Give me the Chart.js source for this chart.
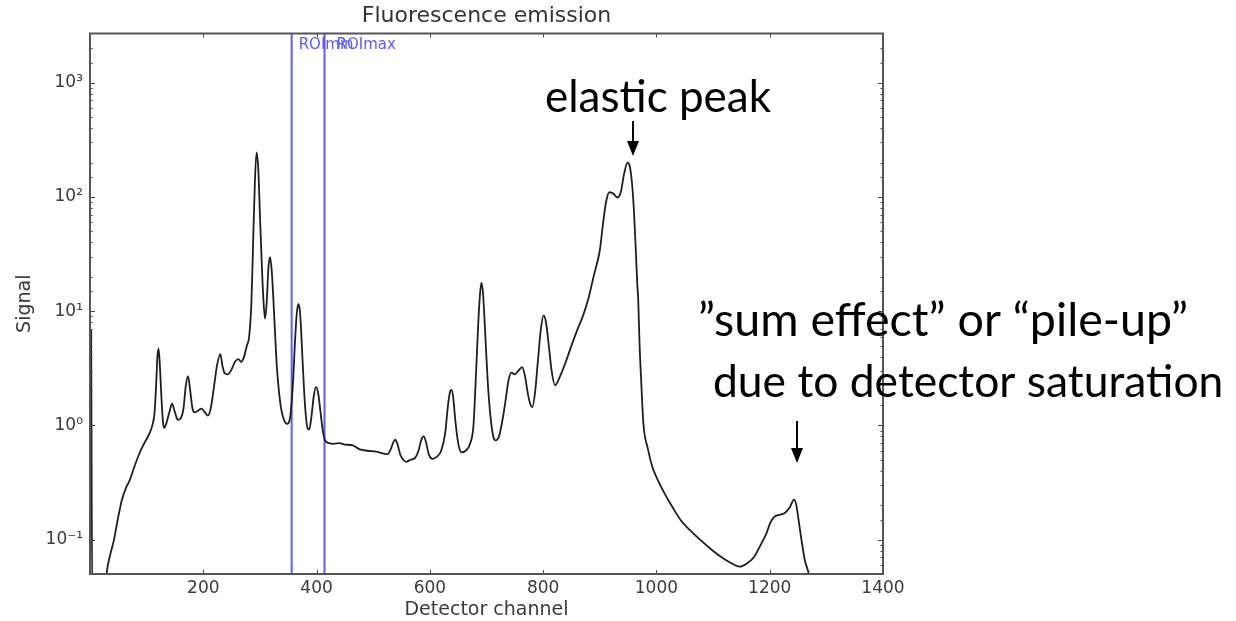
<!DOCTYPE html>
<html>
<head>
<meta charset="utf-8">
<script src="https://cdn.jsdelivr.net/npm/chart.js@4.4.0/dist/chart.umd.min.js"></script>
<style>
  html, body { margin: 0; padding: 0; background: #fff; }
  #wrap { width: 1236px; height: 621px; }
</style>
</head>
<body>
<div id="wrap"><canvas id="spectrum" width="1236" height="621"></canvas></div>
<script>
// spectrum (channel -> signal)
const channels = [
  2, 4, 28, 31, 36, 42, 49, 56, 63, 70, 78, 87, 96, 105, 110, 114, 117, 119, 121, 123,
  126, 129, 131, 135, 140, 145, 150, 155, 160, 165, 169, 173, 177, 181, 185, 191, 197, 203, 208, 213,
  219, 224, 230, 234, 238, 243, 250, 256, 262, 267, 272, 277, 281, 285, 288, 291, 294, 297, 300, 303,
  306, 309, 312, 315, 318, 321, 324, 327, 330, 334, 338, 343, 348, 353, 358, 362, 365, 368, 371, 374,
  377, 380, 384, 387, 391, 395, 399, 403, 407, 411, 415, 422, 430, 440, 450, 464, 475, 490, 505, 517,
  525, 531, 536, 539, 543, 548, 553, 558, 566, 574, 580, 585, 589, 593, 598, 605, 612, 620, 627, 632,
  636, 638, 641, 645, 650, 656, 663, 671, 677, 681, 685, 688, 691, 694, 698, 702, 707, 712, 716, 722,
  728, 734, 739, 744, 750, 756, 763, 768, 773, 778, 781, 786, 791, 796, 801, 805, 810, 815, 821, 830,
  840, 850, 860, 870, 880, 890, 900, 906, 911, 917, 924, 931, 937, 943, 949, 953, 957, 960, 963, 966,
  968, 970, 973, 977, 985, 993, 1004, 1015, 1029, 1043, 1060, 1079, 1097, 1115, 1130, 1147, 1160, 1172, 1184, 1194,
  1201, 1208, 1217, 1226, 1235, 1243, 1247, 1251, 1256, 1262, 1269, 1272
];
const signal = [
  7.0, 0.03, 0.045, 0.058, 0.075, 0.098, 0.15, 0.22, 0.28, 0.33, 0.43, 0.565, 0.7, 0.85, 1.0, 1.3, 2.4, 4.0, 4.7, 3.6,
  1.8, 1.05, 0.95, 1.05, 1.3, 1.55, 1.3, 1.12, 1.15, 1.4, 2.2, 2.7, 2.0, 1.4, 1.3, 1.35, 1.4, 1.3, 1.22, 1.4,
  2.2, 3.3, 4.2, 3.3, 2.85, 2.8, 3.1, 3.6, 3.8, 3.6, 4.0, 5.0, 6.0, 12, 40, 130, 246, 180, 70, 28,
  13, 8.6, 12, 24, 29.7, 22, 12, 6, 3.2, 1.9, 1.35, 1.1, 1.03, 1.15, 2.2, 5.5, 9.5, 11.6, 9.5, 5,
  2.5, 1.4, 0.95, 0.92, 1.2, 1.8, 2.16, 1.9, 1.3, 0.9, 0.74, 0.70, 0.69, 0.70, 0.68, 0.67, 0.62, 0.6, 0.59, 0.57,
  0.56, 0.62, 0.72, 0.75, 0.68, 0.55, 0.5, 0.48, 0.5, 0.52, 0.6, 0.75, 0.80, 0.72, 0.56, 0.51, 0.53, 0.6, 0.85, 1.5,
  2.0, 2.05, 1.8, 1.1, 0.7, 0.58, 0.6, 0.69, 1.0, 2.5, 7, 13, 17.8, 14, 6, 2.5, 1.2, 0.8, 0.74, 0.8,
  1.1, 1.7, 2.5, 2.9, 2.8, 3.0, 3.24, 2.7, 1.9, 1.5, 1.45, 2.0, 3.8, 7, 9.2, 8, 5, 3, 2.24, 2.7,
  3.6, 5, 6.8, 9, 13, 21, 34, 60, 90, 110, 107, 99, 110, 160, 200, 185, 130, 80, 40, 18,
  12, 5.5, 2.5, 1.04, 0.62, 0.43, 0.32, 0.25, 0.19, 0.148, 0.12, 0.098, 0.082, 0.07, 0.063, 0.058, 0.062, 0.07, 0.09, 0.113,
  0.14, 0.158, 0.165, 0.17, 0.19, 0.224, 0.2, 0.148, 0.1, 0.066, 0.05, 0.04
];

const xTickValues = [200, 400, 600, 800, 1000, 1200, 1400];
const yDecades = [0.1, 1, 10, 100, 1000];
const yDecadeLabels = ['10\u207B\u00B9', '10\u2070', '10\u00B9', '10\u00B2', '10\u00B3'];
const xRange = [0, 1400];
const yRange = [0.05, 2700];
const roiMin = 356;
const roiMax = 414;

const points = channels.map((c, i) => ({ x: c, y: signal[i] }));

function decadeIndex(v) {
  return yDecades.findIndex(d => Math.abs(Math.log10(v) - Math.log10(d)) < 1e-6);
}

// matplotlib-like frame with inward ticks, ROI labels
const framePlugin = {
  id: 'frame',
  afterDatasetsDraw(chart) {
    const { ctx, chartArea: a, scales } = chart;
    const xs = scales.x, ys = scales.y;
    ctx.save();
    ctx.strokeStyle = '#444';
    ctx.lineWidth = 1;
    xTickValues.forEach(v => {
      const px = Math.round(xs.getPixelForValue(v)) + 0.5;
      ctx.beginPath();
      ctx.moveTo(px, a.bottom); ctx.lineTo(px, a.bottom - 4);
      ctx.moveTo(px, a.top); ctx.lineTo(px, a.top + 4);
      ctx.stroke();
    });
    ys.ticks.forEach(t => {
      if (t.value <= yRange[0] || t.value >= yRange[1]) return;
      const py = Math.round(ys.getPixelForValue(t.value)) + 0.5;
      const len = decadeIndex(t.value) >= 0 ? 5 : 2.5;
      ctx.beginPath();
      ctx.moveTo(a.left, py); ctx.lineTo(a.left + len, py);
      ctx.moveTo(a.right, py); ctx.lineTo(a.right - len, py);
      ctx.stroke();
    });
    ctx.strokeStyle = '#555';
    ctx.lineWidth = 2;
    ctx.strokeRect(a.left, a.top, a.right - a.left, a.bottom - a.top);

    ctx.fillStyle = '#5a5aff';
    ctx.font = '15px "DejaVu Sans"';
    ctx.textBaseline = 'alphabetic';
    ctx.fillText('ROImin', xs.getPixelForValue(roiMin) + 7, a.top + 15);
    ctx.fillText('ROImax', xs.getPixelForValue(roiMax) + 12, a.top + 15);
    ctx.restore();
  }
};

// call-out texts and arrows
function fitText(ctx, text, family, left, right, baseline) {
  ctx.font = '40px ' + family;
  const w = ctx.measureText(text).width;
  const size = 40 * (right - left) / w;
  ctx.font = size.toFixed(1) + 'px ' + family;
  ctx.fillText(text, left, baseline);
}
function arrow(ctx, x, y0, y1) {
  ctx.beginPath();
  ctx.moveTo(x, y0); ctx.lineTo(x, y1 - 12);
  ctx.stroke();
  ctx.beginPath();
  ctx.moveTo(x, y1); ctx.lineTo(x - 6, y1 - 15); ctx.lineTo(x + 6, y1 - 15);
  ctx.closePath();
  ctx.fill();
}
const notePlugin = {
  id: 'notes',
  afterDraw(chart) {
    const ctx = chart.ctx;
    ctx.save();
    ctx.fillStyle = '#000';
    ctx.strokeStyle = '#000';
    ctx.lineWidth = 2;
    ctx.textBaseline = 'alphabetic';
    fitText(ctx, 'elastic peak', 'Lato', 545, 771, 112);
    fitText(ctx, '\u201Dsum effect\u201D or \u201Cpile-up\u201D', 'Lato', 698, 1188, 336);
    fitText(ctx, 'due to detector saturation', 'Lato', 713, 1223, 397);
    arrow(ctx, 633, 121, 156);
    arrow(ctx, 797, 421, 463);
    ctx.restore();
  }
};

const axisFont = { family: 'DejaVu Sans', size: 17 };
const labelFont = { family: 'DejaVu Sans', size: 19 };

new Chart(document.getElementById('spectrum'), {
  type: 'line',
  data: {
    datasets: [
      {
        data: points,
        borderColor: '#1e1e1e',
        borderWidth: 1.8,
        pointRadius: 0,
        cubicInterpolationMode: 'monotone'
      },
      {
        data: [{ x: roiMin, y: yRange[0] }, { x: roiMin, y: yRange[1] }],
        borderColor: '#5a5aff',
        borderWidth: 2,
        pointRadius: 0
      },
      {
        data: [{ x: roiMax, y: yRange[0] }, { x: roiMax, y: yRange[1] }],
        borderColor: '#5a5aff',
        borderWidth: 2,
        pointRadius: 0
      }
    ]
  },
  options: {
    responsive: false,
    animation: false,
    layout: { padding: { left: 0, right: 353, top: 0, bottom: 0 } },
    plugins: {
      legend: { display: false },
      tooltip: { enabled: false },
      title: {
        display: true,
        text: 'Fluorescence emission',
        fullSize: false,
        color: '#333',
        font: { family: 'DejaVu Sans', size: 22, weight: 'normal' },
        padding: { top: 3.5, bottom: 3.6 }
      }
    },
    scales: {
      x: {
        type: 'linear',
        min: xRange[0],
        max: xRange[1],
        grid: { display: false, drawTicks: false, tickLength: 0 },
        border: { display: false },
        afterFit(scale) { scale.height = 47; },
        afterBuildTicks(scale) { scale.ticks = xTickValues.map(v => ({ value: v })); },
        ticks: {
          color: '#3a3a3a', font: axisFont, padding: 4, maxRotation: 0, autoSkip: false,
          callback(v) { return String(v); }
        },
        title: {
          display: true,
          text: 'Detector channel',
          color: '#3a3a3a',
          font: labelFont,
          padding: { top: 0, bottom: 0 }
        }
      },
      y: {
        type: 'logarithmic',
        min: yRange[0],
        max: yRange[1],
        grid: { display: false, drawTicks: false, tickLength: 0 },
        border: { display: false },
        afterFit(scale) { scale.width = 90; },
        ticks: {
          color: '#3a3a3a',
          font: axisFont,
          padding: 7,
          autoSkip: false,
          callback(v) {
            const i = decadeIndex(v);
            return i >= 0 ? yDecadeLabels[i] : '';
          }
        },
        title: {
          display: true,
          text: 'Signal',
          color: '#3a3a3a',
          font: labelFont,
          padding: { top: 13.6, bottom: 0 }
        }
      }
    }
  },
  plugins: [framePlugin, notePlugin]
});
</script>
</body>
</html>
